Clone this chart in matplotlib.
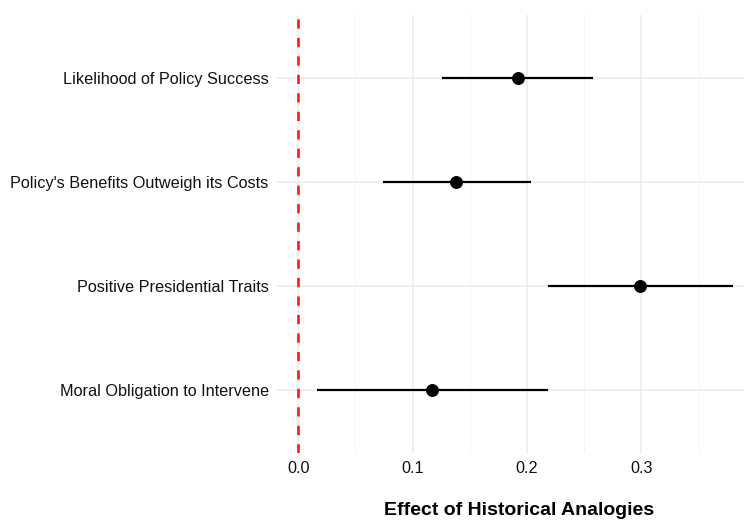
import numpy as np
import matplotlib
matplotlib.use("Agg")
import matplotlib.pyplot as plt

# outcome labels, top to bottom as shown
outcomes = [
    "Likelihood of Policy Success",
    "Policy's Benefits Outweigh its Costs",
    "Positive Presidential Traits",
    "Moral Obligation to Intervene",
]
estimate = [0.192, 0.138, 0.299, 0.117]
ci_low = [0.126, 0.074, 0.218, 0.016]
ci_high = [0.258, 0.203, 0.380, 0.218]

x_ticks = [0.0, 0.1, 0.2, 0.3]
x_minor = [0.05, 0.15, 0.25, 0.35]

plt.rcParams['font.family'] = ['Liberation Sans', 'DejaVu Sans']

fig = plt.figure(figsize=(7.44, 5.2), dpi=100)
ax = fig.add_axes([277 / 744, 67 / 520, 1 - 277 / 744, 438 / 520])

y = np.arange(len(outcomes))[::-1] + 1

# grid, theme_minimal style
for v in x_minor:
    ax.axvline(v, color='#f2f2f2', lw=0.6, zorder=0)
for v in x_ticks:
    ax.axvline(v, color='#ebebeb', lw=1.1, zorder=0)
for v in y:
    ax.axhline(v, color='#ebebeb', lw=1.1, zorder=0)

ax.axvline(0, color='#ff1a1a', lw=1.9, linestyle=(0, (3.5, 3.5)), zorder=1)

ax.hlines(y, ci_low, ci_high, color='black', lw=1.6, zorder=2)
ax.plot(estimate, y, 'o', color='black', markersize=8.3, zorder=3)

ax.set_xlim(-0.0186, 0.3896)
ax.set_ylim(0.4, 4.6)
ax.set_xticks(x_ticks)
ax.set_xticklabels(['0.0', '0.1', '0.2', '0.3'])
ax.set_yticks(y)
ax.set_yticklabels(outcomes)
ax.tick_params(axis='both', length=0, labelsize=11.7, labelcolor='#111111')
ax.tick_params(axis='x', pad=6)
ax.tick_params(axis='y', pad=6)
for s in ax.spines.values():
    s.set_visible(False)

# axis title sits low, right of panel centre (as in the reference)
fig.text(519 / 744, 5 / 520, 'Effect of Historical Analogies', fontsize=14,
         fontweight='bold', ha='center', va='baseline', color='black')

fig.savefig('out.png', dpi=100)
